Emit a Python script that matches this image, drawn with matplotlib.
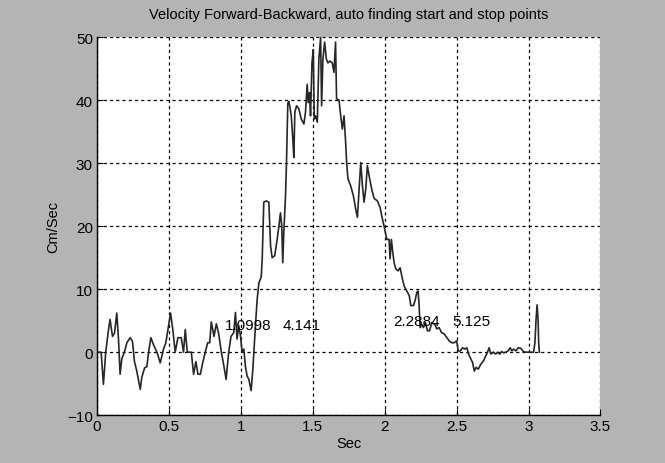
import numpy as np
import matplotlib
matplotlib.use("Agg")
import matplotlib.pyplot as plt

# velocity trace
t = [0.000, 0.028, 0.044, 0.060, 0.079, 0.090, 0.107, 0.121, 0.137, 0.149,
     0.160, 0.172, 0.190, 0.207, 0.230, 0.246, 0.260, 0.276, 0.300, 0.311,
     0.330, 0.346, 0.358, 0.374, 0.392, 0.416, 0.439, 0.462, 0.478, 0.492,
     0.511, 0.527, 0.543, 0.562, 0.585, 0.601, 0.613, 0.627, 0.655, 0.671,
     0.687, 0.701, 0.718, 0.734, 0.752, 0.769, 0.783, 0.794, 0.813, 0.829,
     0.845, 0.864, 0.880, 0.897, 0.915, 0.931, 0.950, 0.962, 0.973, 0.985,
     0.997, 1.008, 1.020, 1.031, 1.043, 1.055, 1.071, 1.083, 1.090, 1.101,
     1.113, 1.125, 1.141, 1.148, 1.159, 1.176, 1.194, 1.206, 1.217, 1.235,
     1.252, 1.264, 1.275, 1.284, 1.291, 1.298, 1.310, 1.317, 1.326, 1.333,
     1.340, 1.350, 1.361, 1.368, 1.375, 1.387, 1.403, 1.419, 1.438, 1.449,
     1.461, 1.468, 1.477, 1.484, 1.494, 1.503, 1.510, 1.519, 1.531, 1.542,
     1.554, 1.561, 1.570, 1.582, 1.594, 1.605, 1.619, 1.635, 1.647, 1.658,
     1.665, 1.682, 1.694, 1.705, 1.717, 1.728, 1.735, 1.744, 1.763, 1.782,
     1.798, 1.810, 1.822, 1.833, 1.845, 1.856, 1.868, 1.879, 1.891, 1.909,
     1.926, 1.949, 1.967, 1.984, 2.000, 2.014, 2.030, 2.037, 2.046, 2.056,
     2.065, 2.077, 2.093, 2.107, 2.123, 2.135, 2.153, 2.170, 2.181, 2.200,
     2.211, 2.223, 2.232, 2.239, 2.246, 2.258, 2.269, 2.283, 2.297, 2.312,
     2.327, 2.348, 2.362, 2.378, 2.395, 2.413, 2.432, 2.448, 2.465, 2.483,
     2.500, 2.511, 2.525, 2.541, 2.557, 2.571, 2.583, 2.599, 2.610, 2.623,
     2.635, 2.650, 2.668, 2.686, 2.698, 2.714, 2.726, 2.737, 2.756, 2.772,
     2.784, 2.800, 2.812, 2.826, 2.842, 2.858, 2.872, 2.884, 2.895, 2.912,
     2.928, 2.947, 2.963, 2.982, 3.016, 3.035, 3.044, 3.052, 3.059, 3.066,
     3.070, 3.075]
v = [0, 0, -5.1, 0, 3.5, 5.2, 2.5, 3, 6.2, 2,
     -3.5, -1, 0, 1.5, 2.3, 1.7, -1.5, -3, -5.9, -4,
     -2.5, -2.3, 0, 2.3, 1.2, 0, -1.7, 0.5, 1.5, 3.5,
     6.2, 3.5, 0, 2.3, 2.3, 0, 3.6, 0, 0, -3.5,
     -1.5, -3.5, -3.5, -1.7, 0, 1.5, 1.5, 4.8, 2.5, 4.5,
     3, 0, -2, -4.3, 0, 2.5, 3.1, 6.3, 2.1, 4.2,
     2.6, 0, 0.5, -2.2, -3.8, -4.3, -6.1, -2.7, 0, 4.2,
     8.4, 11, 11.9, 14.8, 23.8, 24, 23.8, 16.9, 15, 15.3,
     17.9, 20, 22.1, 20, 14.2, 19, 24.8, 30.2, 39.5, 39.8,
     39, 37.5, 33.8, 30.9, 38.1, 39.1, 38.6, 37, 36.2, 38.1,
     42.5, 39.6, 41.2, 37.5, 45.9, 48, 37, 37.5, 36.5, 46.5,
     49.9, 39.1, 46.5, 49.2, 46.5, 45.9, 46.2, 45.9, 44.4, 49.2,
     40.2, 40, 37.5, 35.4, 37.5, 33.3, 30.1, 27.5, 26.4, 24.8,
     22.7, 21.4, 25.9, 30.1, 26.4, 23.8, 25.9, 29.6, 28, 25.9,
     24.4, 24, 23, 21.1, 19.5, 17.9, 17.9, 14.8, 17.9, 15.8,
     14.2, 13.2, 12.9, 13.4, 11.6, 10.5, 9.7, 9.0, 7.4, 7.4,
     8.2, 9.5, 9.7, 7.4, 3.9, 4.4, 3.9, 4.7, 3.4, 3.4,
     4.7, 4.4, 3.7, 3.9, 3.1, 2.9, 2.3, 1.8, 1.5, 1.5,
     1.8, 0.2, 0.2, 0.7, 0.5, 0.7, -0.3, -1.1, -1.6, -3.0,
     -2.4, -2.7, -1.9, -1.4, -0.8, 0, 0.7, -0.3, 0, -0.3,
     0, -0.3, 0.1, -0.1, 0, 0.2, 0.7, 0.2, 0.5, 0.2,
     0.7, 0.6, 0.1, 0, 0, 0, 1.5, 5.2, 7.5, 5.2,
     1.5, 0]

# start / stop annotations
label_x = [0.89, 1.29, 2.06, 2.47]
label_y = [4.3, 4.3, 5.0, 5.0]
labels = ["1.0998", "4.141", "2.2884", "5.125"]

plt.rcParams['font.family'] = ['Liberation Sans', 'DejaVu Sans']

fig = plt.figure(figsize=(6.65, 4.64), dpi=100, facecolor='#b4b4b4')
ax = fig.add_axes([0.146, 0.103, 0.757, 0.815])
ax.set_facecolor('white')

ax.plot(t, v, color='#262626', lw=1.2)
for x, y, s in zip(label_x, label_y, labels):
    ax.text(x, y, s, ha='left', va='center', fontsize=11, color='black')

ax.set_xlim(0, 3.5)
ax.set_ylim(-10, 50)
ax.set_xticks(np.arange(0, 3.51, 0.5))
ax.set_xticklabels(["0", "0.5", "1", "1.5", "2", "2.5", "3", "3.5"])
ax.set_yticks(np.arange(-10, 51, 10))
ax.grid(True, color='black', linestyle=(0, (2.5, 2.5)), lw=0.9)
for s in ['top', 'right']:
    ax.spines[s].set_visible(False)
for s in ['left', 'bottom']:
    ax.spines[s].set_linewidth(1.0)
ax.tick_params(direction='in', length=4, labelsize=11, pad=3)

ax.set_title("Velocity Forward-Backward, auto finding start and stop points", fontsize=10.5, pad=14)
ax.set_xlabel("Sec", fontsize=10.5, labelpad=2)
ax.set_ylabel("Cm/Sec", fontsize=10.5, labelpad=5)

fig.savefig("out.png", dpi=100, facecolor=fig.get_facecolor())
